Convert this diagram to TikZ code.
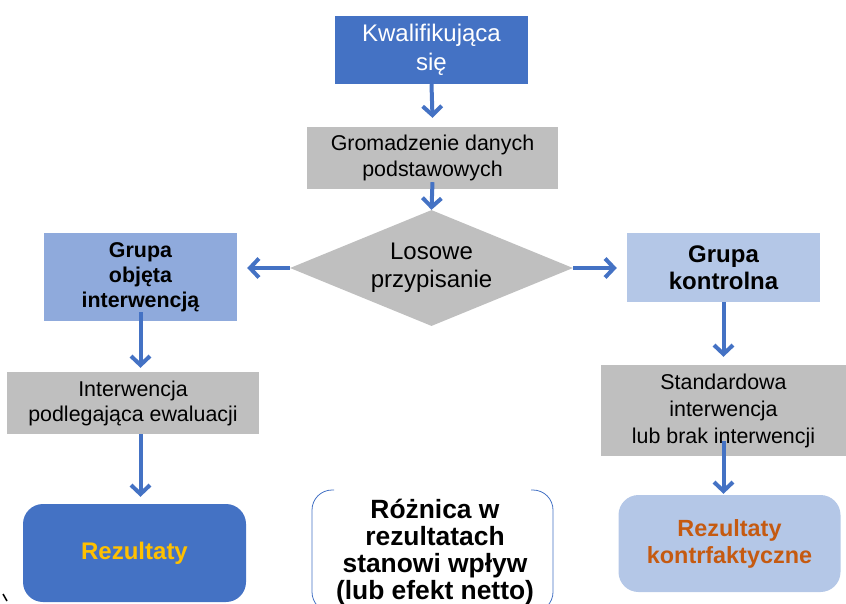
\documentclass[tikz,border=0pt]{standalone}
\usepackage{fontspec}
\setmainfont{Liberation Sans}
\usetikzlibrary{shapes.geometric,arrows.meta,calc}

\definecolor{ciemny}{HTML}{4472C4}
\definecolor{jasny}{HTML}{8FAADC}
\definecolor{blady}{HTML}{B4C7E7}
\definecolor{szary}{HTML}{BFBFBF}
\definecolor{zloty}{HTML}{FFC000}
\definecolor{rudy}{HTML}{C55A11}

\tikzset{
  krok/.style={rectangle, inner sep=0pt, align=center, text=black},
  szara/.style={krok, fill=szary, font=\fontsize{21.4}{26}\selectfont},
  grupa/.style={krok, font=\bfseries\fontsize{21.4}{25}\selectfont},
  wynik/.style={krok, rounded corners=20pt, font=\bfseries\fontsize{23.4}{27}\selectfont},
  strz/.style={draw=ciemny, line width=4pt, -{Straight Barb[length=9pt,width=19pt]}},
}

\begin{document}
\begin{tikzpicture}[x=1pt,y=1pt,yscale=-1]
\useasboundingbox (0,0) rectangle (846,603);

%Shape: Rectangle [kwal]
\node[krok, fill=ciemny, text=white, minimum width=193pt, minimum height=68pt, font=\fontsize{24}{29}\selectfont] (kwal) at (431.5,50) {Kwalifikująca\\się};
%Shape: Rectangle [grom]
\node[szara, minimum width=251pt, minimum height=62pt] (grom) at (432.5,158) {Gromadzenie danych\\podstawowych};
%Shape: Diamond [los]
\node[diamond, aspect=2.44, inner sep=0pt, fill=szary, minimum width=283pt, minimum height=116pt, align=center, font=\fontsize{24}{28}\selectfont] (los) at (431.5,268) {Losowe\\przypisanie};

%Shape: Rectangle [grobj]
\node[grupa, fill=jasny, minimum width=193pt, minimum height=88pt] (grobj) at (140.5,277) {Grupa\\objęta\\interwencją};
%Shape: Rectangle [interw]
\node[szara, minimum width=252pt, minimum height=62pt, font=\fontsize{21.4}{25}\selectfont] (interw) at (133,403) {Interwencja\\podlegająca ewaluacji};
%Shape: Rounded Rect [rezL]
\node[wynik, fill=ciemny, text=zloty, minimum width=223pt, minimum height=98pt, font=\bfseries\fontsize{24}{29}\selectfont] (rezL) at (134.5,553) {Rezultaty};

%Shape: Rectangle [grk]
\node[grupa, fill=blady, minimum width=193pt, minimum height=69pt, font=\bfseries\fontsize{24}{27}\selectfont] (grk) at (723.5,267.5) {Grupa\\kontrolna};
%Shape: Rectangle [std]
\node[szara, minimum width=245pt, minimum height=91pt, font=\fontsize{21.4}{27}\selectfont] (std) at (723.5,410.5) {Standardowa\\interwencja\\lub brak interwencji};
%Shape: Rounded Rect [rezK]
\node[wynik, fill=blady, text=rudy, minimum width=222pt, minimum height=97pt] (rezK) at (729.5,543.5) {Rezultaty\\kontrfaktyczne};

% Text Node
\node[krok, font=\bfseries\fontsize{26.4}{26.7}\selectfont] (roz) at (435,552) {Różnica w\\rezultatach\\stanowi wpływ\\(lub efekt netto)};
%Shape: Brackets
\begin{scope}
\clip (0,0) rectangle (846,603);
\draw[ciemny, line width=0.8pt, rounded corners=20pt] (334,490) -- (312,490) -- (312,612) -- (334,612);
\draw[ciemny, line width=0.8pt, rounded corners=20pt] (531,490) -- (553,490) -- (553,612) -- (531,612);
\end{scope}

%Straight Lines
\draw[strz] (kwal.south) -- ($(grom.north)+(0,-9)$);
\draw[strz] ($(grom.south)+(0,-7)$) -- (los.north);
\draw[strz] (los.west) -- ($(los.west -| grobj.east)+(10,0)$);
\draw[strz] (los.east) -- ($(los.east -| grk.west)+(-10,0)$);
\draw[strz] ($(grobj.south)+(0,-9)$) -- ($(interw.north -| grobj.south)+(0,-4)$);
\draw[strz] (interw.south -| grobj.south) -- ($(rezL.north -| grobj.south)+(0,-7)$);
\draw[strz] (grk.south) -- ($(std.north)+(0,-8)$);
\draw[strz] ($(std.south)+(0,-15)$) -- ($(rezK.north -| std.south)+(0,-1)$);

%Stray mark
\draw[line width=1.5pt] (3,594) -- (7,601);

\end{tikzpicture}
\end{document}
